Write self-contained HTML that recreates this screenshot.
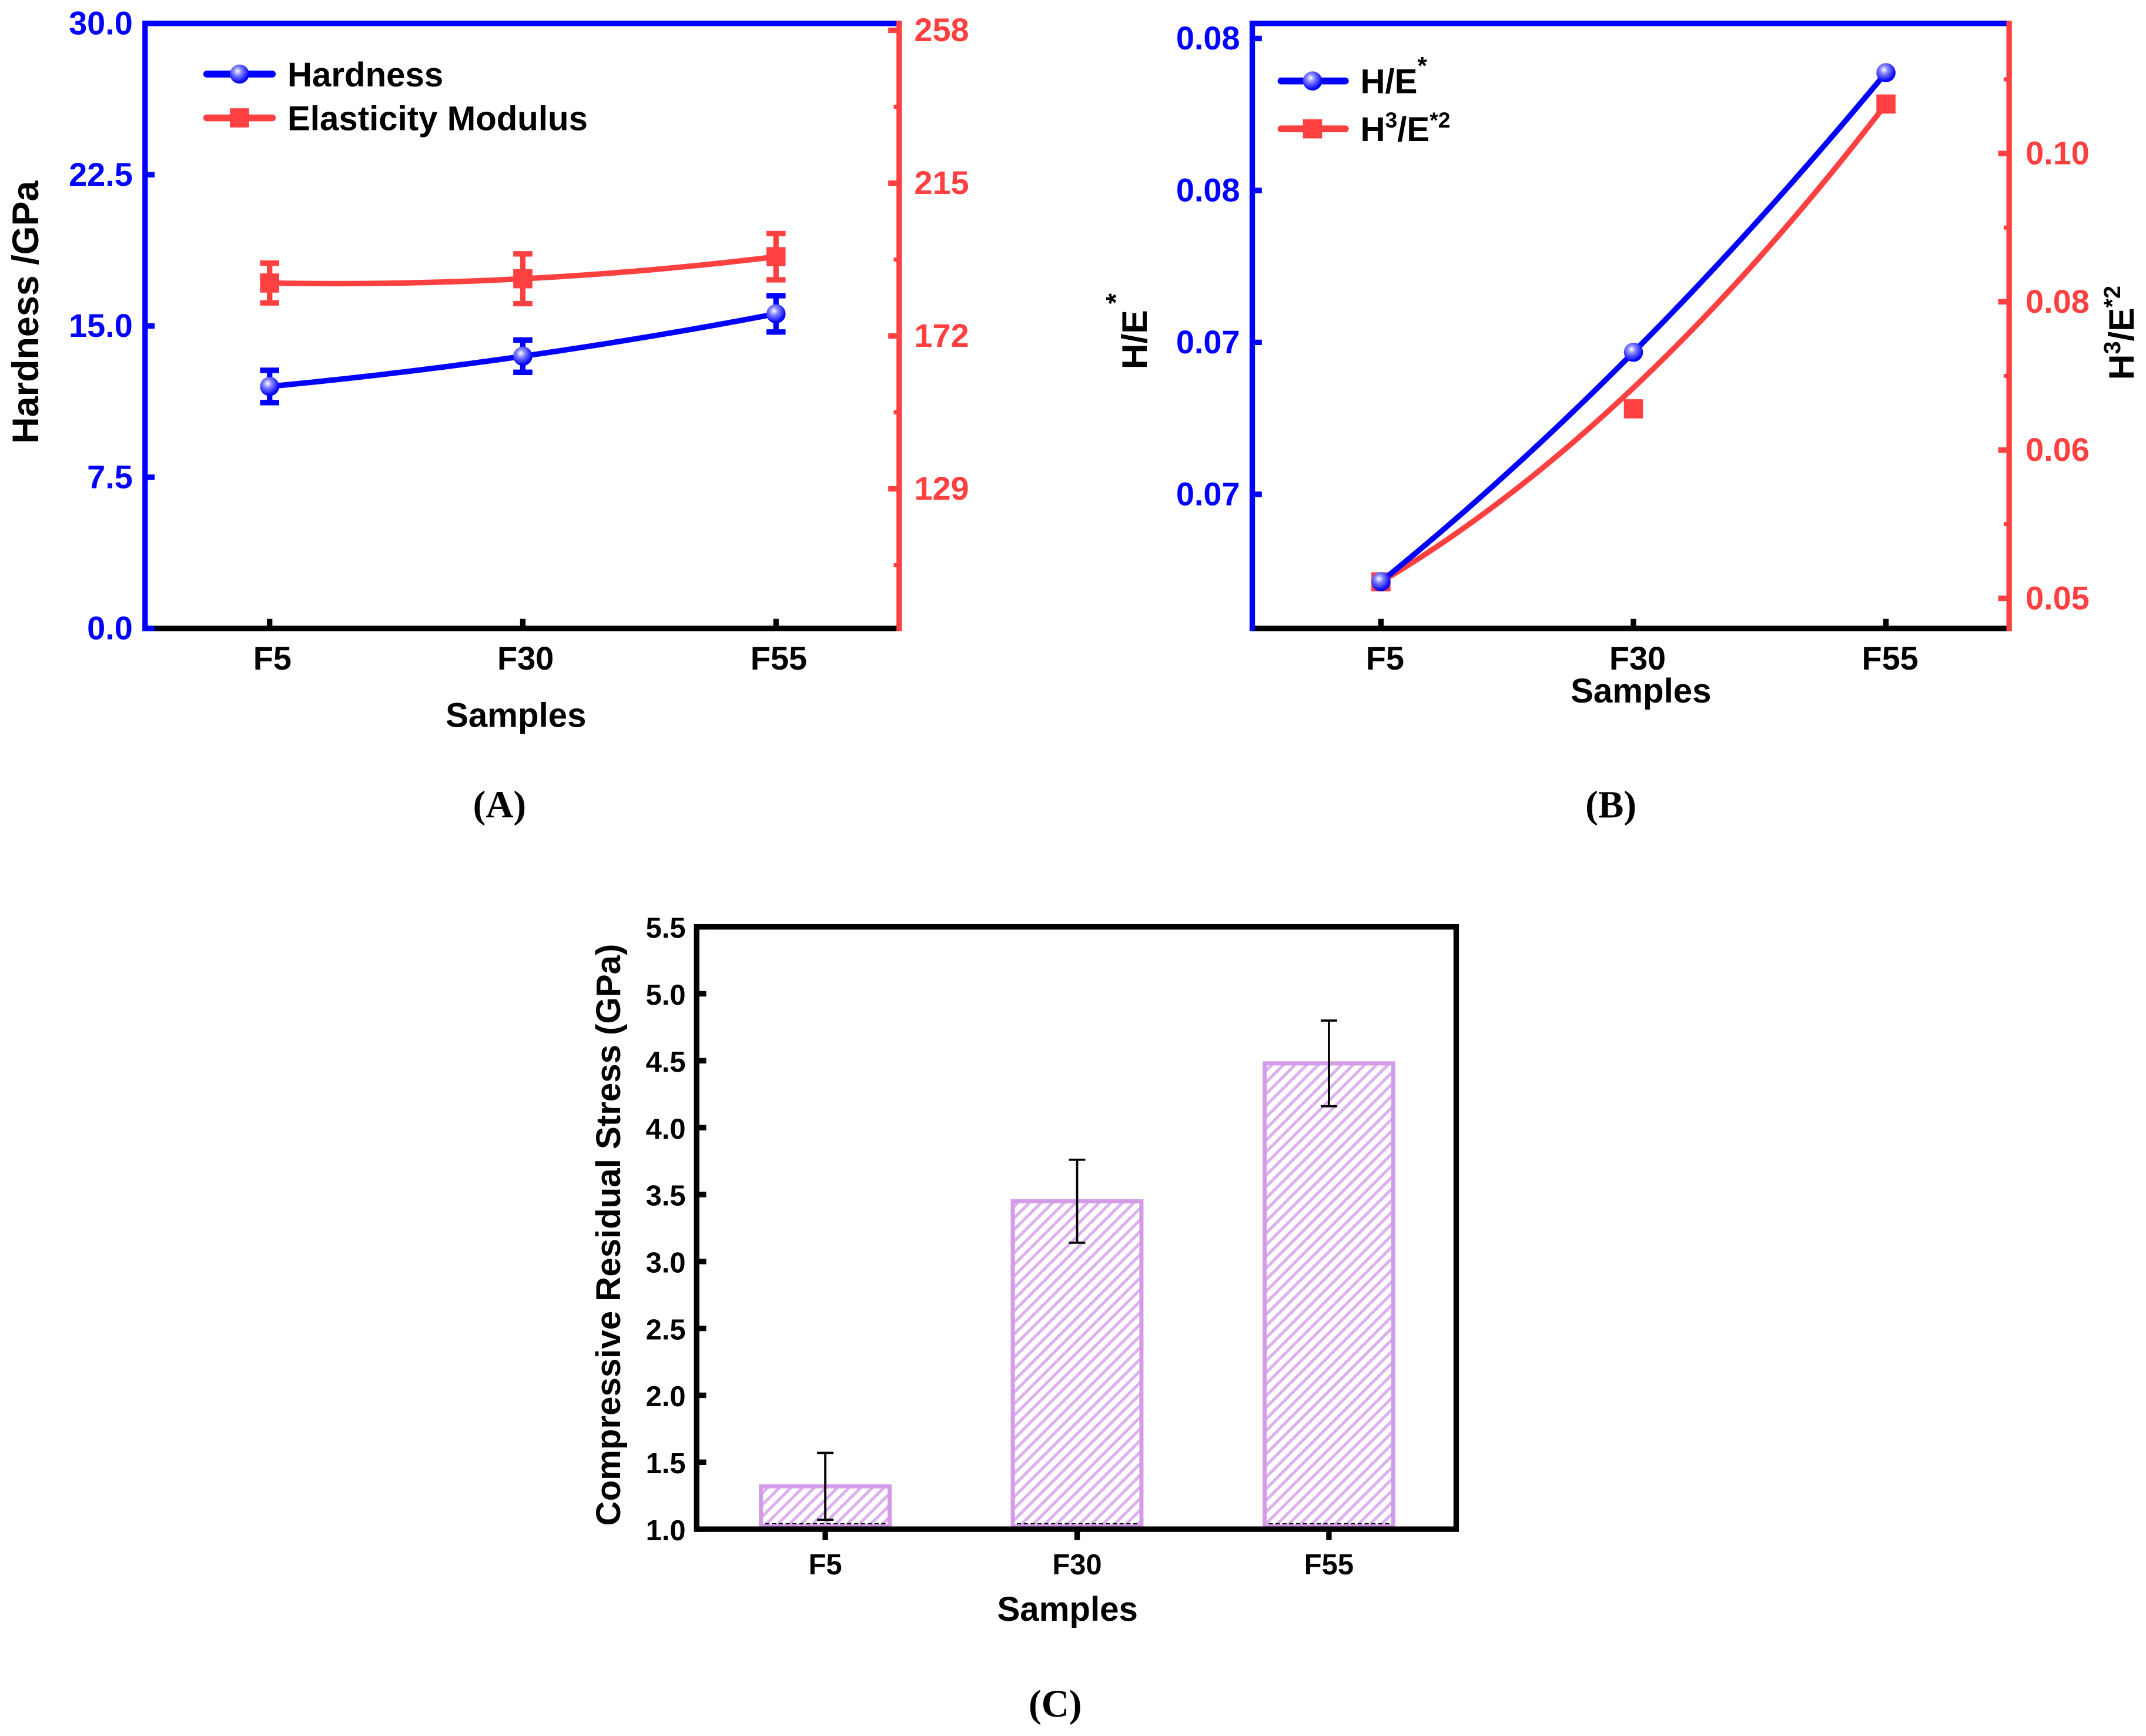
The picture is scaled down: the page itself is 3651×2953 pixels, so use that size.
<!DOCTYPE html>
<html><head><meta charset="utf-8"><style>
html,body{margin:0;padding:0;background:#fff;}
svg{display:block;}
text{font-family:"Liberation Sans",sans-serif;font-weight:bold;}
.cap{font-family:"Liberation Serif",serif;}
</style></head><body>
<svg id="fig" xmlns="http://www.w3.org/2000/svg" width="3651" height="2953" viewBox="0 0 1568 1268">
<defs>
<pattern id="hatch" patternUnits="userSpaceOnUse" width="6" height="6" patternTransform="rotate(45)">
<rect width="6" height="6" fill="#fff"/><rect x="0" y="0" width="2.2" height="6" fill="#DDB0EE"/>
</pattern>
<radialGradient id="ball" cx="0.4" cy="0.35" r="0.6"><stop offset="0" stop-color="#fff"/><stop offset="0.35" stop-color="#8888ff"/><stop offset="1" stop-color="#0000ff"/></radialGradient>
</defs>
<g id="gA"></g>
<g id="gB"></g>
<g id="gC"></g>
<text class="cap" x="365" y="597" text-anchor="middle" font-size="28" font-weight="normal">(<tspan font-weight="bold">A</tspan>)</text>
<text class="cap" x="1177" y="597" text-anchor="middle" font-size="28" font-weight="normal">(<tspan font-weight="bold">B</tspan>)</text>
<text class="cap" x="771" y="1254" text-anchor="middle" font-size="28" font-weight="normal">(<tspan font-weight="bold">C</tspan>)</text>
</svg>
<script>
const categories = ["F5","F30","F55"];
// Panel A
const hardness = [12.0, 13.5, 15.6];
const hardnessErr = [0.8, 0.8, 0.9];
const modulus = [186.9, 188.1, 194.3];
const modulusErr = [5.6, 7.0, 6.5];
const aLeftTicks = [0, 7.5, 15, 22.5, 30];
const aLeftTickLabels = ["0.0","7.5","15.0","22.5","30.0"];
const aRightTicks = [129, 172, 215, 258];
const aRightTickLabels = ["129","172","215","258"];
// Panel B
const hE = [0.07085, 0.07387, 0.07755];
const h3e2 = [0.05167, 0.06917, 0.1000];
const h3e2Fit = [0.05167, 0.0713, 0.1000];
const bLeftTicks = [0.072, 0.074, 0.076, 0.078];
const bLeftTickLabels = ["0.07","0.07","0.08","0.08"];
const bRightTicks = [0.050, 0.065, 0.080, 0.095];
const bRightTickLabels = ["0.05","0.06","0.08","0.10"];
// Panel C
const stress = [1.32, 3.45, 4.48];
const stressErr = [0.25, 0.31, 0.32];
const cTicks = [1.0,1.5,2.0,2.5,3.0,3.5,4.0,4.5,5.0,5.5];
const cTickLabels = ["1.0","1.5","2.0","2.5","3.0","3.5","4.0","4.5","5.0","5.5"];

const NS="http://www.w3.org/2000/svg";
function mk(parent,tag,attrs,txt){const e=document.createElementNS(NS,tag);for(const k in attrs)e.setAttribute(k,attrs[k]);if(txt!==undefined)e.textContent=txt;parent.appendChild(e);return e;}
function lin(d0,d1,r0,r1){return v=>r0+(v-d0)/(d1-d0)*(r1-r0);}
function quadPath(xs,ys,sx,sy){
  const x=[0,1,2];let d="";
  for(let i=0;i<=60;i++){const t=i*2/60;let v=0;
    for(let j=0;j<3;j++){let L=1;for(let k=0;k<3;k++)if(k!==j)L*=(t-x[k])/(x[j]-x[k]);v+=L*ys[j];}
    const px=sx(t),py=sy(v);d+=(i?"L":"M")+px.toFixed(2)+" "+py.toFixed(2);}
  return d;}
const TK=24;

// ---------- Panel A ----------
(function(){
const g=document.getElementById('gA');
const L=106,R=657,T=17,B=459;
const xA=lin(0,2,197,567);
const yL=lin(0,30,B,T);
const yR=lin(129,258,357,22);
let e;
e=mk(g,'line',{x1:L,y1:B,x2:R,y2:B,stroke:'#000','stroke-width':4});

e=mk(g,'line',{x1:L,y1:T,x2:R,y2:T,stroke:'#0000ff','stroke-width':4});

e=mk(g,'line',{x1:L,y1:T-2,x2:L,y2:B+2,stroke:'#0000ff','stroke-width':4});

e=mk(g,'line',{x1:R,y1:T-2,x2:R,y2:B+2,stroke:'#ff4040','stroke-width':4});

aLeftTicks.forEach((v,i)=>{
  mk(g,'line',{x1:L,y1:yL(v),x2:L+7,y2:yL(v),stroke:'#0000ff','stroke-width':4});
  e=mk(g,'text',{x:L-9,y:yL(v)+8,'text-anchor':'end','font-size':TK,fill:'#0000ff'},aLeftTickLabels[i]);
  
});
aRightTicks.forEach((v,i)=>{
  mk(g,'line',{x1:R,y1:yR(v),x2:R-8,y2:yR(v),stroke:'#ff4040','stroke-width':4});
  mk(g,'line',{x1:R,y1:yR(v-21.5),x2:R-4,y2:yR(v-21.5),stroke:'#ff4040','stroke-width':3});
  e=mk(g,'text',{x:R+11,y:yR(v)+8,'font-size':TK,fill:'#ff4040'},aRightTickLabels[i]);
  
});
categories.forEach((c,i)=>{
  mk(g,'line',{x1:xA(i),y1:B,x2:xA(i),y2:B-7,stroke:'#000','stroke-width':4});
  e=mk(g,'text',{x:xA(i)+2,y:B+30,'text-anchor':'middle','font-size':TK},c);
  
});
e=mk(g,'text',{x:377,y:531,'text-anchor':'middle','font-size':25},'Samples');

e=mk(g,'text',{x:0,y:0,'text-anchor':'middle','font-size':27,transform:'translate(28,228) rotate(-90)'},'Hardness /GPa');

e=mk(g,'path',{d:quadPath(0,modulus,xA,yR),fill:'none',stroke:'#ff4040','stroke-width':4});

modulus.forEach((v,i)=>{
  const x=xA(i);
  mk(g,'line',{x1:x,y1:yR(v-modulusErr[i]),x2:x,y2:yR(v+modulusErr[i]),stroke:'#ff4040','stroke-width':4});
  mk(g,'line',{x1:x-7,y1:yR(v-modulusErr[i]),x2:x+7,y2:yR(v-modulusErr[i]),stroke:'#ff4040','stroke-width':4});
  mk(g,'line',{x1:x-7,y1:yR(v+modulusErr[i]),x2:x+7,y2:yR(v+modulusErr[i]),stroke:'#ff4040','stroke-width':4});
  e=mk(g,'rect',{x:x-7,y:yR(v)-7,width:14,height:14,fill:'#ff4040'});
  
});
e=mk(g,'path',{d:quadPath(0,hardness,xA,yL),fill:'none',stroke:'#0000ff','stroke-width':4});

hardness.forEach((v,i)=>{
  const x=xA(i);
  mk(g,'line',{x1:x,y1:yL(v-hardnessErr[i]),x2:x,y2:yL(v+hardnessErr[i]),stroke:'#0000ff','stroke-width':4});
  mk(g,'line',{x1:x-7,y1:yL(v-hardnessErr[i]),x2:x+7,y2:yL(v-hardnessErr[i]),stroke:'#0000ff','stroke-width':4});
  mk(g,'line',{x1:x-7,y1:yL(v+hardnessErr[i]),x2:x+7,y2:yL(v+hardnessErr[i]),stroke:'#0000ff','stroke-width':4});
  e=mk(g,'circle',{cx:x,cy:yL(v),r:7,fill:'url(#ball)'});
  
});
const lg=mk(g,'g',{});

mk(lg,'line',{x1:151,y1:54,x2:199,y2:54,stroke:'#0000ff','stroke-width':5,'stroke-linecap':'round'});
mk(lg,'circle',{cx:175,cy:54,r:7,fill:'url(#ball)'});
e=mk(lg,'text',{x:210,y:63,'font-size':25},'Hardness');

mk(lg,'line',{x1:151,y1:86,x2:199,y2:86,stroke:'#ff4040','stroke-width':5,'stroke-linecap':'round'});
mk(lg,'rect',{x:168,y:79,width:14,height:14,fill:'#ff4040'});
e=mk(lg,'text',{x:210,y:95,'font-size':25},'Elasticity Modulus');

})();

// ---------- Panel B ----------
(function(){
const g=document.getElementById('gB');
const L=915,R=1468,T=17,B=459;
const xB=lin(0,2,1009,1378);
const yL=lin(0.072,0.078,361,28);
const yR=lin(0.050,0.095,437,112);
let e;
e=mk(g,'line',{x1:L,y1:B,x2:R,y2:B,stroke:'#000','stroke-width':4});

e=mk(g,'line',{x1:L,y1:T,x2:R,y2:T,stroke:'#0000ff','stroke-width':4});

e=mk(g,'line',{x1:L,y1:T-2,x2:L,y2:B+2,stroke:'#0000ff','stroke-width':4});

e=mk(g,'line',{x1:R,y1:T-2,x2:R,y2:B+2,stroke:'#ff4040','stroke-width':4});

bLeftTicks.forEach((v,i)=>{
  mk(g,'line',{x1:L,y1:yL(v),x2:L+7,y2:yL(v),stroke:'#0000ff','stroke-width':4});
  e=mk(g,'text',{x:L-9,y:yL(v)+8,'text-anchor':'end','font-size':TK,fill:'#0000ff'},bLeftTickLabels[i]);
  
});
bRightTicks.forEach((v,i)=>{
  mk(g,'line',{x1:R,y1:yR(v),x2:R-8,y2:yR(v),stroke:'#ff4040','stroke-width':4});
  mk(g,'line',{x1:R,y1:yR(v+0.0075),x2:R-4,y2:yR(v+0.0075),stroke:'#ff4040','stroke-width':3});
  e=mk(g,'text',{x:R+12,y:yR(v)+8,'font-size':TK,fill:'#ff4040'},bRightTickLabels[i]);
  
});
categories.forEach((c,i)=>{
  mk(g,'line',{x1:xB(i),y1:B,x2:xB(i),y2:B-7,stroke:'#000','stroke-width':4});
  e=mk(g,'text',{x:xB(i)+3,y:B+30,'text-anchor':'middle','font-size':TK},c);
  
});
e=mk(g,'text',{x:1199,y:513,'text-anchor':'middle','font-size':25},'Samples');

e=mk(g,'text',{x:0,y:0,'text-anchor':'middle','font-size':26,transform:'translate(838,248) rotate(-90)'},'H/E');

mk(g,'text',{x:0,y:0,'font-size':20,transform:'translate(822,222) rotate(-90)'},'*');
e=mk(g,'text',{x:0,y:0,'text-anchor':'middle','font-size':26,transform:'translate(1559,243) rotate(-90)'});
e.innerHTML='H<tspan font-size="17" dy="-10">3</tspan><tspan dy="10">/E</tspan><tspan font-size="17" dy="-10">*2</tspan>';

e=mk(g,'path',{d:quadPath(0,h3e2Fit,xB,yR),fill:'none',stroke:'#ff4040','stroke-width':4});

h3e2.forEach((v,i)=>{
  e=mk(g,'rect',{x:xB(i)-7,y:yR(v)-7,width:14,height:14,fill:'#ff4040'});
  
});
e=mk(g,'path',{d:quadPath(0,hE,xB,yL),fill:'none',stroke:'#0000ff','stroke-width':4});

hE.forEach((v,i)=>{
  e=mk(g,'circle',{cx:xB(i),cy:yL(v),r:7,fill:'url(#ball)'});
  
});
const lg=mk(g,'g',{});

mk(lg,'line',{x1:936,y1:59,x2:983,y2:59,stroke:'#0000ff','stroke-width':5,'stroke-linecap':'round'});
mk(lg,'circle',{cx:959,cy:59,r:7,fill:'url(#ball)'});
e=mk(lg,'text',{x:994,y:68,'font-size':25});
e.innerHTML='H/E<tspan font-size="18" dy="-14">*</tspan>';

mk(lg,'line',{x1:936,y1:94,x2:983,y2:94,stroke:'#ff4040','stroke-width':5,'stroke-linecap':'round'});
mk(lg,'rect',{x:952,y:87,width:14,height:14,fill:'#ff4040'});
e=mk(lg,'text',{x:994,y:103,'font-size':25});
e.innerHTML='H<tspan font-size="16" dy="-10">3</tspan><tspan dy="10">/E</tspan><tspan font-size="16" dy="-10">*2</tspan>';

})();

// ---------- Panel C ----------
(function(){
const g=document.getElementById('gC');
const L=509,R=1064,T=677,B=1117;
const xC=lin(0,2,603,971);
const y=lin(1.0,5.5,B,T);
const bw=94;
let e;
stress.forEach((v,i)=>{
  e=mk(g,'rect',{x:xC(i)-bw/2,y:y(v),width:bw,height:B-2-y(v),fill:'url(#hatch)',stroke:'#D49BE8','stroke-width':3});
  
  mk(g,'line',{x1:xC(i)-bw/2+3,y1:B-4,x2:xC(i)+bw/2-3,y2:B-4,stroke:'#000','stroke-width':0.8,'stroke-dasharray':'3 2'});
});
stress.forEach((v,i)=>{
  const x=xC(i),lo=y(v-stressErr[i]),hi=y(v+stressErr[i]);
  e=mk(g,'line',{x1:x,y1:lo,x2:x,y2:hi,stroke:'#000','stroke-width':1.6});
  
  mk(g,'line',{x1:x-6,y1:lo,x2:x+6,y2:lo,stroke:'#000','stroke-width':1.6});
  mk(g,'line',{x1:x-6,y1:hi,x2:x+6,y2:hi,stroke:'#000','stroke-width':1.6});
});
e=mk(g,'rect',{x:L,y:T,width:R-L,height:B-T,fill:'none',stroke:'#000','stroke-width':4});

cTicks.forEach((v,i)=>{
  mk(g,'line',{x1:L,y1:y(v),x2:L+7,y2:y(v),stroke:'#000','stroke-width':4});
  e=mk(g,'text',{x:L-8,y:y(v)+8,'text-anchor':'end','font-size':21},cTickLabels[i]);
  
});
categories.forEach((c,i)=>{
  mk(g,'line',{x1:xC(i),y1:B,x2:xC(i),y2:B+8,stroke:'#000','stroke-width':4});
  e=mk(g,'text',{x:xC(i),y:B+33,'text-anchor':'middle','font-size':21},c);
  
});
e=mk(g,'text',{x:780,y:1184,'text-anchor':'middle','font-size':25},'Samples');

e=mk(g,'text',{x:0,y:0,'text-anchor':'middle','font-size':25,transform:'translate(453,902) rotate(-90)'},'Compressive Residual Stress (GPa)');

})();
</script>
</body></html>
